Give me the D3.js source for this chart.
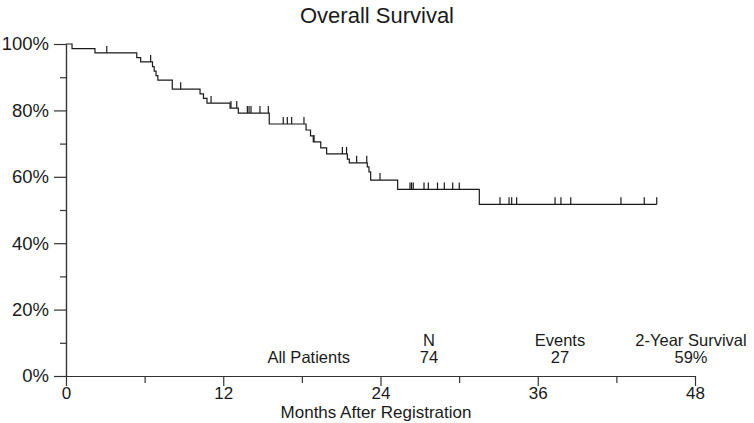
<!DOCTYPE html>
<html><head><meta charset="utf-8">
<script src="https://cdn.jsdelivr.net/npm/d3@7"></script>
<style>body{margin:0;background:#fff}svg{display:block;font-family:"Liberation Sans",Arial,sans-serif}</style>
</head><body><svg id="c" width="754" height="423"></svg>
<script>
const eventMonths = [0.46,2.21,5.40,5.70,6.60,6.73,6.87,7.01,8.11,10.23,10.49,10.76,12.52,13.15,15.51,18.32,18.66,18.87,19.44,19.89,21.47,21.62,22.99,23.12,23.25,25.31,31.54];
const survival = [0.986,0.973,0.959,0.946,0.932,0.918,0.905,0.891,0.864,0.850,0.836,0.822,0.807,0.792,0.759,0.741,0.723,0.705,0.687,0.669,0.653,0.642,0.630,0.615,0.590,0.562,0.517];
const censorMonths = [3.11,6.46,8.75,11.07,12.59,13.03,13.84,13.97,14.12,14.80,15.44,16.58,16.89,17.22,18.16,18.93,21.09,21.41,22.18,22.95,23.96,26.25,26.37,26.50,27.32,27.65,28.35,28.87,29.51,30.01,33.12,33.81,34.01,34.39,37.32,37.77,38.52,42.35,44.13,45.08];
const lastFollowUp = 45.08;
const xMajor = [0,12,24,36,48], xMinor = [6,18,30,42];
const yMajor = [0,0.2,0.4,0.6,0.8,1.0], yMinor = [0.1,0.3,0.5,0.7,0.9];
const tableHeaders = ["N","Events","2-Year Survival"];
const tableRow = {label:"All Patients", values:["74","27","59%"]};

const svg = d3.select("#c");
const x = d3.scaleLinear().domain([0,48]).range([66,695]);
const y = d3.scaleLinear().domain([0,1]).range([376,44]);
const ink = "#1a1a1a";

svg.append("text").attr("x",377).attr("y",23).attr("text-anchor","middle")
  .attr("font-size",22).attr("fill",ink).text("Overall Survival");

// axes
svg.append("g").attr("class","ya").attr("transform","translate(66,0)")
  .call(d3.axisLeft(y).tickValues(yMajor).tickSize(12).tickSizeOuter(0).tickPadding(5).tickFormat(d3.format(".0%")));
svg.append("g").attr("transform","translate(66,0)")
  .call(d3.axisLeft(y).tickValues(yMinor).tickSize(6).tickSizeOuter(0).tickFormat(""));
svg.append("g").attr("class","xa").attr("transform","translate(0,376)")
  .call(d3.axisBottom(x).tickValues(xMajor).tickSize(10).tickSizeOuter(0).tickPadding(1));
svg.append("g").attr("transform","translate(0,376)")
  .call(d3.axisBottom(x).tickValues(xMinor).tickSize(7).tickSizeOuter(0).tickFormat(""));
svg.selectAll(".domain, .tick line").attr("stroke","#333").attr("stroke-width",1.2);
svg.selectAll(".tick text").attr("fill",ink).attr("font-family","Liberation Sans, Arial, sans-serif");
svg.selectAll(".ya .tick text").attr("font-size",18.5);
svg.selectAll(".xa .tick text").attr("font-size",17);

svg.append("text").attr("x",376).attr("y",418).attr("text-anchor","middle")
  .attr("font-size",17).attr("fill",ink).text("Months After Registration");

// KM curve
const pts = [[0,1]].concat(eventMonths.map((t,i)=>[t,survival[i]]));
pts.push([lastFollowUp, survival[survival.length-1]]);
svg.append("path").datum(pts)
  .attr("d", d3.line().x(d=>x(d[0])).y(d=>y(d[1])).curve(d3.curveStepAfter))
  .attr("fill","none").attr("stroke",ink).attr("stroke-width",1.2);

function sAt(t){let s=1;eventMonths.forEach((e,i)=>{if(e<=t)s=survival[i];});return s;}
svg.append("g").selectAll("line").data(censorMonths).join("line")
  .attr("x1",d=>x(d)).attr("x2",d=>x(d))
  .attr("y1",d=>y(sAt(d))).attr("y2",d=>y(sAt(d))-7)
  .attr("stroke",ink).attr("stroke-width",1.2);

// table
const colX = [429,560,691];
svg.append("g").selectAll("text").data(tableHeaders).join("text")
  .attr("x",(d,i)=>colX[i]).attr("y",346).attr("text-anchor","middle")
  .attr("font-size",16.5).attr("fill",ink).text(d=>d);
svg.append("g").selectAll("text").data(tableRow.values).join("text")
  .attr("x",(d,i)=>colX[i]).attr("y",363).attr("text-anchor","middle")
  .attr("font-size",16.5).attr("fill",ink).text(d=>d);
svg.append("text").attr("x",350).attr("y",363).attr("text-anchor","end")
  .attr("font-size",16.5).attr("fill",ink).text(tableRow.label);
</script></body></html>
